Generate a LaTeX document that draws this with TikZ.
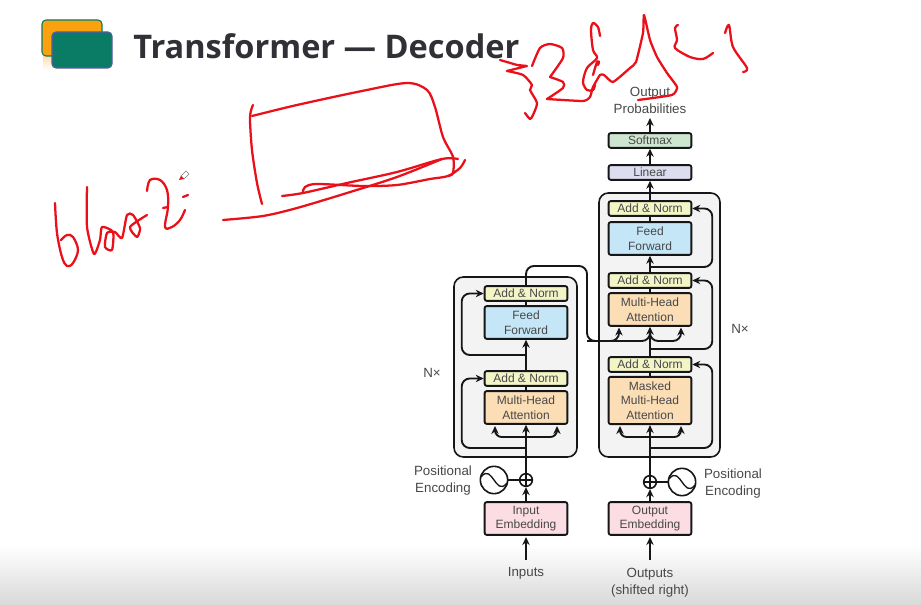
\documentclass[tikz,border=0pt]{standalone}
\usepackage{fontspec}
\setmainfont{Liberation Sans}
\newfontfamily\titlefont{Open Sans}
\usepackage{xcolor}
\usepackage{tikz}
\usetikzlibrary{arrows.meta,calc,positioning}
\definecolor{ink}{RGB}{72,72,74}
\definecolor{wirec}{RGB}{22,22,24}
\definecolor{titlec}{RGB}{48,48,54}
\definecolor{pen}{RGB}{235,15,25}
\definecolor{anc}{RGB}{243,245,198}
\definecolor{ffc}{RGB}{196,230,246}
\definecolor{mhc}{RGB}{251,221,182}
\definecolor{emc}{RGB}{251,221,227}
\definecolor{linc}{RGB}{221,221,240}
\definecolor{sofc}{RGB}{206,230,208}
\definecolor{stackc}{RGB}{243,243,244}
\definecolor{logoa}{RGB}{250,161,14}
\definecolor{logob}{RGB}{10,124,102}
\tikzset{
  wire/.style={wirec,line width=1.4pt},
  block/.style={draw=wirec,line width=1.4pt,rounded corners=1.5pt,minimum width=62pt,inner sep=0pt,align=center,text=ink,font=\fontsize{9}{11}\selectfont},
  addnorm/.style={block,fill=anc,minimum height=11pt},
  feedf/.style={block,fill=ffc,minimum height=24.5pt},
  attn/.style={block,fill=mhc,minimum height=24.5pt},
  embed/.style={block,fill=emc,minimum height=24.5pt},
  label/.style={text=ink,align=center,inner sep=0pt,font=\fontsize{10}{12.8}\selectfont},
  stack/.style={draw=wirec,line width=1.2pt,fill=stackc,rounded corners=7pt},
  plusn/.style={draw=wirec,line width=1.2pt,circle,fill=white,minimum size=9.5pt,inner sep=0pt},
  sinen/.style={draw=wirec,line width=1.2pt,circle,fill=white,minimum size=20.5pt,inner sep=0pt},
  ink stroke/.style={pen,line width=1.7pt,line cap=round,line join=round},
}
\newcommand{\sinewave}[1]{\draw[wirec,line width=1pt] ($(#1)+(-13,-3)$) .. controls ($(#1)+(-7,-11)$) and ($(#1)+(-3,-4)$) .. (#1.center) .. controls ($(#1)+(3,4)$) and ($(#1)+(7,11)$) .. ($(#1)+(13,3)$);}
\newcommand{\crossin}[1]{\draw[wirec,line width=.9pt] (#1.north)--(#1.south) (#1.west)--(#1.east);}
\begin{document}
\begin{tikzpicture}[x=0.75pt,y=-0.75pt,>={Stealth[length=6pt,width=5.5pt]}]
  \useasboundingbox (0,0) rectangle (921,605);
  \fill[white] (0,0) rectangle (921,605);
  \shade[top color=white,bottom color=black!15] (0,545) rectangle (921,605);
  % logo and title
  \shade[top color=logoa!35,bottom color=white] (43,56) rectangle (54,70);
  \draw[draw=logob,line width=.8pt,fill=logoa,rounded corners=3pt] (42,20) rectangle (102,56);
  \draw[draw=blue!30!gray,line width=.8pt,fill=logob,rounded corners=3pt] (52,32) rectangle (112,68);
  \node[anchor=west,inner sep=0pt,text=titlec,font=\titlefont\bfseries\fontsize{24.4}{30}\selectfont] (title) at (133,46) {Transformer — Decoder};

  % encoder
  \begin{scope}
    \draw[stack] (454,277) rectangle (577,457);
    \node[addnorm] (anEb) at (526,293.5) {Add \& Norm};
    \node[feedf] (ffE) at (526,322.5) {Feed\\Forward};
    \node[addnorm] (anEa) at (526,378.5) {Add \& Norm};
    \node[attn] (mhE) at (526,407.5) {Multi-Head\\Attention};
    \node[embed] (emE) at (526,518.5) {Input\\Embedding};
    \node[plusn] (plusE) at (526,480) {};
    \node[sinen] (sineE) at (494,480) {};
    \node[label] (posE) at (443,480.5) {Positional\\Encoding};
    \node[label] (nE) at (432,373) {N×};
    \node[label] (inputs) at (526,573.5) {Inputs};
    \coordinate (tapEa) at (526,448); \coordinate (tapEb) at (526,437); \coordinate (tapEc) at (526,355);
    \coordinate (srcE) at (526,560); \coordinate (keyE) at (495,426); \coordinate (qryE) at (557,426);
    \draw[->,wire] (srcE)--(emE.south |- 0,537);
    \draw[->,wire] (emE.north)--(plusE.south);
    \draw[->,wire] (plusE.north)--(mhE.south);
    \draw[wire] (mhE.north)--(anEa.south); \draw[->,wire] (anEa.north)--(ffE.south); \draw[wire] (ffE.north)--(anEb.south);
    \draw[wire] (sineE.east)--(plusE.west);
    \draw[->,wire,rounded corners=5pt] (tapEb) -| (keyE);
    \draw[->,wire,rounded corners=5pt] (tapEb) -| (qryE);
    \draw[->,wire,rounded corners=6pt] (tapEa) -| ([xshift=-16.5pt]anEa.west) -- (anEa.west);
    \draw[->,wire,rounded corners=6pt] (tapEc) -| ([xshift=-16.5pt]anEb.west) -- (anEb.west);
    \sinewave{sineE} \crossin{plusE}
  \end{scope}

  % decoder
  \begin{scope}
    \draw[stack] (599,193) rectangle (720,457);
    \node[addnorm] (anDc) at (650,208.5) {Add \& Norm};
    \node[feedf] (ffD) at (650,238.5) {Feed\\Forward};
    \node[addnorm] (anDb) at (650,280.5) {Add \& Norm};
    \node[attn] (mhD) at (650,309.5) {Multi-Head\\Attention};
    \node[addnorm] (anDa) at (650,364.5) {Add \& Norm};
    \node[block,fill=mhc,minimum height=35.5pt] (maD) at (650,400.5) {Masked\\Multi-Head\\Attention};
    \node[embed] (emD) at (650,518.5) {Output\\Embedding};
    \node[plusn] (plusD) at (650,482) {};
    \node[sinen] (sineD) at (682,482) {};
    \node[label] (posD) at (733,483.5) {Positional\\Encoding};
    \node[label] (nD) at (740,329) {N×};
    \node[label] (outputs) at (650,582.5) {Outputs\\(shifted right)};
    \node[block,fill=linc,minimum height=11pt] (linD) at (650,172.5) {Linear};
    \node[block,fill=sofc,minimum height=11pt] (sofD) at (650,140.5) {Softmax};
    \node[label] (probs) at (650,100.5) {Output\\Probabilities};
    \coordinate (tapDa) at (650,448); \coordinate (tapDb) at (650,437); \coordinate (tapDc) at (650,349); \coordinate (tapDd) at (650,267);
    \coordinate (srcD) at (650,560); \coordinate (keyD) at (620,426); \coordinate (qryD) at (681,426);
    \coordinate (inA) at (619,327.5); \coordinate (inC) at (681,327.5); \coordinate (outD) at (650,118);
    \coordinate (crossA) at (587,266); \coordinate (crossB) at (587,341);
    \draw[->,wire] (srcD)--(emD.south |- 0,537);
    \draw[->,wire] (emD.north)--(plusD.south);
    \draw[->,wire] (plusD.north)--(maD.south);
    \draw[wire] (maD.north)--(anDa.south); \draw[wire] (mhD.north)--(anDb.south);
    \draw[->,wire] (anDb.north)--(ffD.south); \draw[wire] (ffD.north)--(anDc.south);
    \draw[->,wire] (anDc.north)--(linD.south); \draw[->,wire] (linD.north)--(sofD.south); \draw[->,wire] (sofD.north)--(outD);
    \draw[wire] (sineD.west)--(plusD.east);
    \draw[->,wire,rounded corners=5pt] (tapDb) -| (keyD);
    \draw[->,wire,rounded corners=5pt] (tapDb) -| (qryD);
    \draw[->,wire,rounded corners=6pt] (tapDa) -| ([xshift=15pt]anDa.east) -- (anDa.east);
    \draw[->,wire,rounded corners=6pt] (tapDc) -| ([xshift=15pt]anDb.east) -- (anDb.east);
    \draw[->,wire,rounded corners=6pt] (tapDd) -| ([xshift=15pt]anDc.east) -- (anDc.east);
    \draw[->,wire,rounded corners=6pt] (anDa.north) |- (crossB -| mhD.south) -| (inC);
    \draw[->,wire,rounded corners=6pt] (anEb.north) |- (crossA) -- (crossB) -| (inA);
    \draw[->,wire,rounded corners=6pt] (crossB) -| (mhD.south);
    \sinewave{sineD} \crossin{plusD}
  \end{scope}

  % red pen notes
  \draw[ink stroke] plot[smooth,tension=.6] coordinates {(55,203) (57,233) (62,257) (67,266) (73,263) (78,250) (73,237) (67,235) (61,240)};
  \draw[ink stroke] plot[smooth,tension=.4] coordinates {(87,187) (87,227) (94,254) (100,240) (102,227) (113,232) (112,250) (105,247) (107,233) (115,232) (122,238) (127,215) (133,215) (140,228) (137,237) (130,227) (147,215)};
  \draw[ink stroke] plot[smooth,tension=.6] coordinates {(147,191) (150,180) (160,180) (167,190) (168,207) (165,227) (172,227) (180,220) (185,210)};
  \draw[ink stroke] (163,208)--(168,207); \draw[ink stroke] (183,197)--(188,195);
  \draw[ink stroke] plot[smooth,tension=.5] coordinates {(253,105) (250,117) (252,150) (257,183) (262,204)};
  \draw[ink stroke] plot[smooth,tension=.5] coordinates {(252,116) (297,105) (362,91) (407,83) (427,90) (435,107) (443,137) (453,157) (453,173) (448,176)};
  \draw[ink stroke] plot[smooth,tension=.5] coordinates {(282,196) (303,193) (347,183) (397,172) (442,159) (458,159)};
  \draw[ink stroke] plot[smooth,tension=.5] coordinates {(303,192) (305,187) (317,184) (363,186) (397,185) (430,179) (448,176) (460,168) (465,160)};
  \draw[ink stroke] plot[smooth,tension=.5] coordinates {(223,220) (263,216) (297,208) (347,193) (397,177) (442,159)};
  \draw[ink stroke] (500,60)--(517,65)--(527,66)--(507,71);
  \draw[ink stroke] plot[smooth,tension=.4] coordinates {(507,71) (523,75) (532,85) (530,90) (537,103) (533,115) (530,119) (525,113)};
  \draw[ink stroke] plot[smooth,tension=.4] coordinates {(532,66) (540,48) (550,44) (562,48) (563,58) (550,77)};
  \draw[ink stroke] plot[smooth,tension=.4] coordinates {(550,77) (563,82) (563,88) (547,99)};
  \draw[ink stroke] plot[smooth,tension=.3] coordinates {(547,99) (583,101) (590,97) (593,87) (600,75) (604,75) (613,82) (630,68) (636,62) (643,33) (644,15) (650,40) (657,57) (667,73) (677,87) (672,95) (638,100)};
  \draw[ink stroke] plot[smooth,tension=.5] coordinates {(600,36) (598,27) (593,23) (591,30) (593,50) (597,58) (587,68) (583,82) (587,90) (593,90) (595,85)};
  \draw[ink stroke] plot[smooth,tension=.5] coordinates {(593,75) (597,62) (599,62) (598,65)};
  \draw[ink stroke] plot[smooth,tension=.5] coordinates {(678,25) (675,28) (677,40) (675,48) (690,57) (703,59) (713,53)};
  \draw[ink stroke] plot[smooth,tension=.5] coordinates {(725,33) (729,25) (733,47) (747,68) (743,72)};
  % pen cursor
  \draw[gray,line width=.4pt,fill=white] (181,176)--(186,171)--(189,174)--(184,179)--cycle;
  \fill[pen] (179,180)--(181,176)--(184,179)--cycle;
\end{tikzpicture}
\end{document}
